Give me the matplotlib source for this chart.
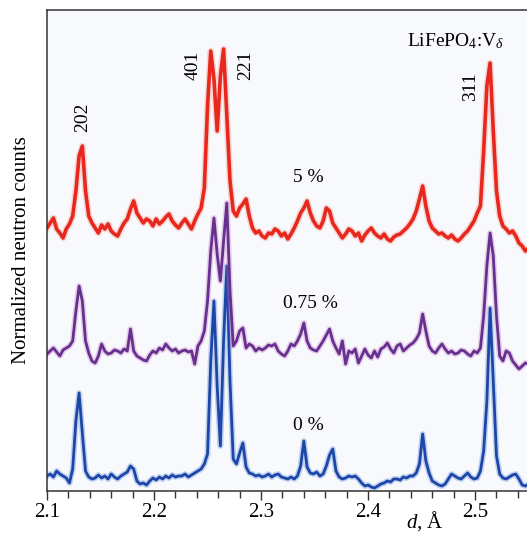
import numpy as np
import matplotlib
matplotlib.use("Agg")
import matplotlib.pyplot as plt
from matplotlib.ticker import MultipleLocator

plt.rcParams["font.family"] = ["Liberation Serif", "DejaVu Serif"]
plt.rcParams["mathtext.fontset"] = "custom"
plt.rcParams["mathtext.rm"] = "Liberation Serif"
plt.rcParams["mathtext.it"] = "Liberation Serif:italic"

# --- Data --------------------------------------------------------------------
# d spacing sampled every 0.003 A from 2.100 to 2.550
d_spacing = np.round(2.100 + 0.003 * np.arange(151), 3)

# normalized counts, curves already offset as in the figure (arb. units)
counts_0 = [
    15, 17, 14, 20, 17, 15, 13, 8, 22, 70,
    98, 58, 20, 14, 12, 13, 16, 13, 15, 12,
    17, 14, 12, 15, 17, 19, 25, 22, 10, 7,
    8, 6, 10, 13, 11, 14, 12, 15, 13, 16,
    14, 15, 15, 17, 14, 16, 18, 20, 22, 27,
    37, 130, 190, 105, 45, 150, 225, 110, 32, 27,
    38, 48, 24, 18, 17, 15, 16, 14, 15, 17,
    14, 16, 17, 14, 13, 12, 14, 12, 15, 25,
    50, 24, 18, 17, 19, 15, 17, 25, 36, 42,
    20, 14, 12, 13, 15, 14, 15, 12, 8, 5,
    6, 4, 3, 5, 7, 8, 10, 9, 12, 12,
    11, 14, 13, 15, 15, 18, 27, 57, 30, 18,
    10, 8, 6, 5, 7, 12, 17, 15, 13, 12,
    15, 18, 14, 12, 13, 20, 40, 90, 183, 110,
    35, 17, 13, 12, 14, 16, 17, 12, 6, 5,
    7,
]

counts_075 = [
    137, 140, 143, 139, 135, 141, 143, 145, 150, 180,
    205, 190, 150, 138, 130, 128, 135, 147, 140, 137,
    138, 141, 140, 138, 142, 140, 162, 140, 135, 133,
    131, 130, 136, 140, 138, 143, 141, 147, 143, 140,
    142, 138, 140, 141, 139, 140, 127, 145, 150, 160,
    190, 240, 273, 237, 210, 250, 288, 200, 145, 150,
    160, 163, 143, 147, 145, 140, 143, 141, 143, 146,
    145, 147, 140, 137, 135, 140, 147, 145, 150, 157,
    168, 150, 143, 141, 140, 145, 150, 156, 162, 150,
    143, 137, 150, 127, 140, 138, 142, 128, 135, 142,
    136, 133, 140, 134, 142, 144, 148, 142, 138, 145,
    147, 140, 143, 146, 148, 152, 158, 177, 160, 145,
    140, 138, 143, 147, 142, 138, 140, 137, 138, 141,
    140, 137, 135, 140, 138, 143, 175, 225, 258, 235,
    175, 135, 130, 140, 138, 130, 126, 122, 125, 128,
    127,
]

counts_5 = [
    263, 268, 273, 262, 258, 253, 262, 267, 275, 300,
    335, 345, 300, 275, 268, 263, 258, 266, 262, 267,
    260, 257, 255, 262, 268, 272, 282, 290, 278, 273,
    268, 272, 270, 265, 272, 267, 270, 274, 277, 270,
    266, 263, 268, 272, 267, 262, 270, 277, 283, 303,
    385, 440, 412, 360, 415, 442, 375, 310, 280, 275,
    283, 287, 292, 275, 263, 258, 260, 255, 253, 258,
    257, 262, 260, 255, 258, 252, 257, 263, 270, 278,
    283, 290, 278, 270, 265, 263, 270, 283, 280, 268,
    263, 258, 253, 257, 262, 260, 255, 258, 250, 256,
    260, 263, 258, 255, 253, 257, 252, 250, 254, 256,
    257, 260, 263, 267, 272, 280, 292, 305, 285, 270,
    263, 260, 257, 258, 255, 253, 256, 252, 250, 253,
    257, 260, 265, 270, 278, 285, 340, 405, 428, 360,
    300, 275, 265, 262, 258, 260, 255, 248, 245, 240,
    243,
]

series_labels = ["0 %", "0.75 %", "5 %"]
peak_labels = ["202", "401", "221", "311"]
peak_pos = [2.1336, 2.2364, 2.286, 2.4953]
peak_height = [374, 426, 426, 404]
x_ticks = [2.1, 2.2, 2.3, 2.4, 2.5]

# --- Style -------------------------------------------------------------------
CORE = {"0 %": "#1d46a8", "0.75 %": "#66308f", "5 %": "#e8281e"}
HALO = {"0 %": "#5a8ad8", "0.75 %": "#c478c4", "5 %": "#f49a8a"}
WIDTH = {"0 %": 2.0, "0.75 %": 2.0, "5 %": 2.6}
AX_BG = "#f7f9fd"
SPINE = "#333333"

fig = plt.figure(figsize=(5.27, 5.34), dpi=100)
ax = fig.add_axes([47 / 527, 43 / 534, 480 / 527, 481 / 534])
ax.set_facecolor(AX_BG)

for label, y in zip(series_labels, [counts_0, counts_075, counts_5]):
    ax.plot(d_spacing, y, color=HALO[label], lw=WIDTH[label] + 2.2,
            alpha=0.35, solid_joinstyle="round")
    ax.plot(d_spacing, y, color=CORE[label], lw=WIDTH[label],
            solid_joinstyle="round")

ax.set_xlim(2.1, 2.5485)
ax.set_ylim(0, 481)

# curve labels
ax.text(2.344, 314, "5 %", ha="center", va="center", fontsize=14)
ax.text(2.3458, 188, "0.75 %", ha="center", va="center", fontsize=14)
ax.text(2.344, 66, "0 %", ha="center", va="center", fontsize=14)

for lab, x, y in zip(peak_labels, peak_pos, peak_height):
    ax.text(x, y, lab, rotation=90, ha="center", va="center", fontsize=14)

ax.text(2.4822, 450, r"LiFePO$_4$:V$_{\it{\delta}}$", ha="center",
        va="center", fontsize=14)

# axes
ax.set_xticks(x_ticks)
ax.set_xticklabels([f"{t:.1f}" for t in x_ticks])
ax.xaxis.set_minor_locator(MultipleLocator(0.02))
ax.set_yticks([])
ax.tick_params(axis="x", which="major", direction="out", length=6.5,
               width=1.0, color=SPINE, labelsize=15, pad=2)
ax.tick_params(axis="x", which="minor", direction="out", length=5,
               width=1.0, color=SPINE)
ax.spines["right"].set_visible(False)
for side in ["left", "top", "bottom"]:
    ax.spines[side].set_color(SPINE)
    ax.spines[side].set_linewidth(1.1)

fig.text(22 / 527, 1 - 250 / 534, "Normalized neutron counts", rotation=90,
         ha="center", va="center", fontsize=15)
fig.text(425 / 527, 1 / 534, r"$\it{d}$, Å", ha="center", va="bottom",
         fontsize=15)

fig.savefig("out.png", dpi=100, facecolor="white")
